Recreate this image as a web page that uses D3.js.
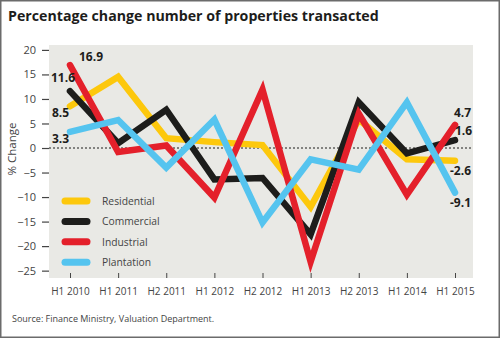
<!DOCTYPE html>
<html><head><meta charset="utf-8">
<script src="https://cdn.jsdelivr.net/npm/d3@7"></script>
<style>body{margin:0;background:#fff}svg{display:block;font-family:"Open Sans",sans-serif}</style>
</head><body>
<script>
const periods = ["H1 2010","H1 2011","H2 2011","H1 2012","H2 2012","H1 2013","H2 2013","H1 2014","H1 2015"];
const residential = [8.5, 14.5, 2.0, 1.2, 0.6, -12.0, 5.8, -2.3, -2.6];
const commercial  = [11.6, 1.0, 7.8, -6.4, -6.1, -17.6, 9.3, -1.1, 1.6];
const industrial  = [16.9, -0.8, 0.5, -10.1, 11.9, -23.2, 7.0, -9.5, 4.7];
const plantation  = [3.3, 5.7, -4.0, 5.8, -15.2, -2.3, -4.4, 9.3, -9.1];
const seriesNames = ["Residential","Commercial","Industrial","Plantation"];
const yTicks = [20,15,10,5,0,-5,-10,-15,-20,-25];

const series = [
  {name: seriesNames[0], values: residential, color: "#fdc80c"},
  {name: seriesNames[1], values: commercial, color: "#1d1d1b"},
  {name: seriesNames[2], values: industrial, color: "#e4202b"},
  {name: seriesNames[3], values: plantation, color: "#55c4ef"}
];

const W = 500, H = 338;
const svg = d3.select("body").append("svg").attr("width", W).attr("height", H);
svg.append("rect").attr("x",0.75).attr("y",0.75).attr("width",W-1.5).attr("height",H-1.5)
  .attr("fill","#fff").attr("stroke","#6b6b6b").attr("stroke-width",1.5);

svg.append("text").attr("x",8).attr("y",21).attr("font-size",14.2).attr("font-weight",700)
  .attr("fill","#1d1d1b").text("Percentage change number of properties transacted");

const plot = {x0: 49, x1: 473, y0: 45, y1: 278};
svg.append("rect").attr("x",plot.x0).attr("y",plot.y0).attr("width",plot.x1-plot.x0).attr("height",plot.y1-plot.y0).attr("fill","#e9e9e5");

const x = d3.scalePoint().domain(periods).range([70, 455]);
const y = d3.scaleLinear().domain([-26.5, 21]).range([plot.y1, plot.y0]);

// y axis
const yAxis = svg.append("g").attr("transform",`translate(${plot.x0},0)`)
  .call(d3.axisLeft(y).tickValues(yTicks).tickSize(7).tickPadding(6).tickFormat(d3.format("d")));
yAxis.select(".domain").remove();
yAxis.selectAll("line").attr("stroke","#444").attr("stroke-width",1.2);
yAxis.selectAll("text").attr("font-size",11).attr("fill","#444").attr("font-family","Open Sans");

svg.append("text").attr("transform",`translate(16,${149}) rotate(-90)`).attr("text-anchor","middle")
  .attr("font-size",11.5).attr("fill","#444").text("% Change");

// x axis
const xAxis = svg.append("g").attr("transform",`translate(0,${plot.y1})`)
  .call(d3.axisTop(x).tickSize(5).tickPadding(0));
xAxis.select(".domain").remove();
xAxis.selectAll("line").attr("stroke","#444").attr("stroke-width",1);
xAxis.selectAll("text").attr("y",16.5).attr("dy",0).attr("font-size",10).attr("fill","#444").attr("font-family","Open Sans");

// zero line
svg.append("line").attr("x1",plot.x0).attr("x2",plot.x1).attr("y1",y(0)).attr("y2",y(0))
  .attr("stroke","#1d1d1b").attr("stroke-width",1).attr("stroke-dasharray","2,2");

const line = d3.line().x((d,i)=>x(periods[i])).y(d=>y(d));
svg.append("g").selectAll("path").data(series).join("path")
  .attr("d", d=>line(d.values)).attr("fill","none").attr("stroke",d=>d.color)
  .attr("stroke-width",6.5).attr("stroke-linejoin","miter").attr("stroke-linecap","round");

// legend
const lg = svg.append("g");
series.forEach((s,i)=>{
  const ly = 201 + i*20.4;
  lg.append("line").attr("x1",65).attr("x2",87).attr("y1",ly).attr("y2",ly)
    .attr("stroke",s.color).attr("stroke-width",7).attr("stroke-linecap","round");
  lg.append("text").attr("x",102).attr("y",ly+4).attr("font-size",10.3).attr("fill","#444").text(s.name);
});

// value labels
const lab = svg.append("g").attr("font-size",12).attr("font-weight",700).attr("fill","#1d1d1b");
const first = periods[0], last = periods[periods.length-1];
lab.append("text").attr("x",79).attr("y",y(industrial[0])-4).text(industrial[0].toFixed(1));
lab.append("text").attr("x",51).attr("y",y(commercial[0])-9).text(commercial[0].toFixed(1));
lab.append("text").attr("x",52).attr("y",y(residential[0])+11).text(residential[0].toFixed(1));
lab.append("text").attr("x",52).attr("y",y(plantation[0])+11).text(plantation[0].toFixed(1));
lab.append("text").attr("x",x(last)-1).attr("y",y(industrial[8])-7.5).text(industrial[8].toFixed(1));
lab.append("text").attr("x",x(last)).attr("y",y(commercial[8])-5).text(commercial[8].toFixed(1));
lab.append("text").attr("x",x(last)-5).attr("y",y(residential[8])+14).text(residential[8].toFixed(1));
lab.append("text").attr("x",x(last)-5).attr("y",y(plantation[8])+14).text(plantation[8].toFixed(1));

svg.append("text").attr("x",12).attr("y",322).attr("font-size",9).attr("fill","#444")
  .text("Source: Finance Ministry, Valuation Department.");
</script>
</body></html>
